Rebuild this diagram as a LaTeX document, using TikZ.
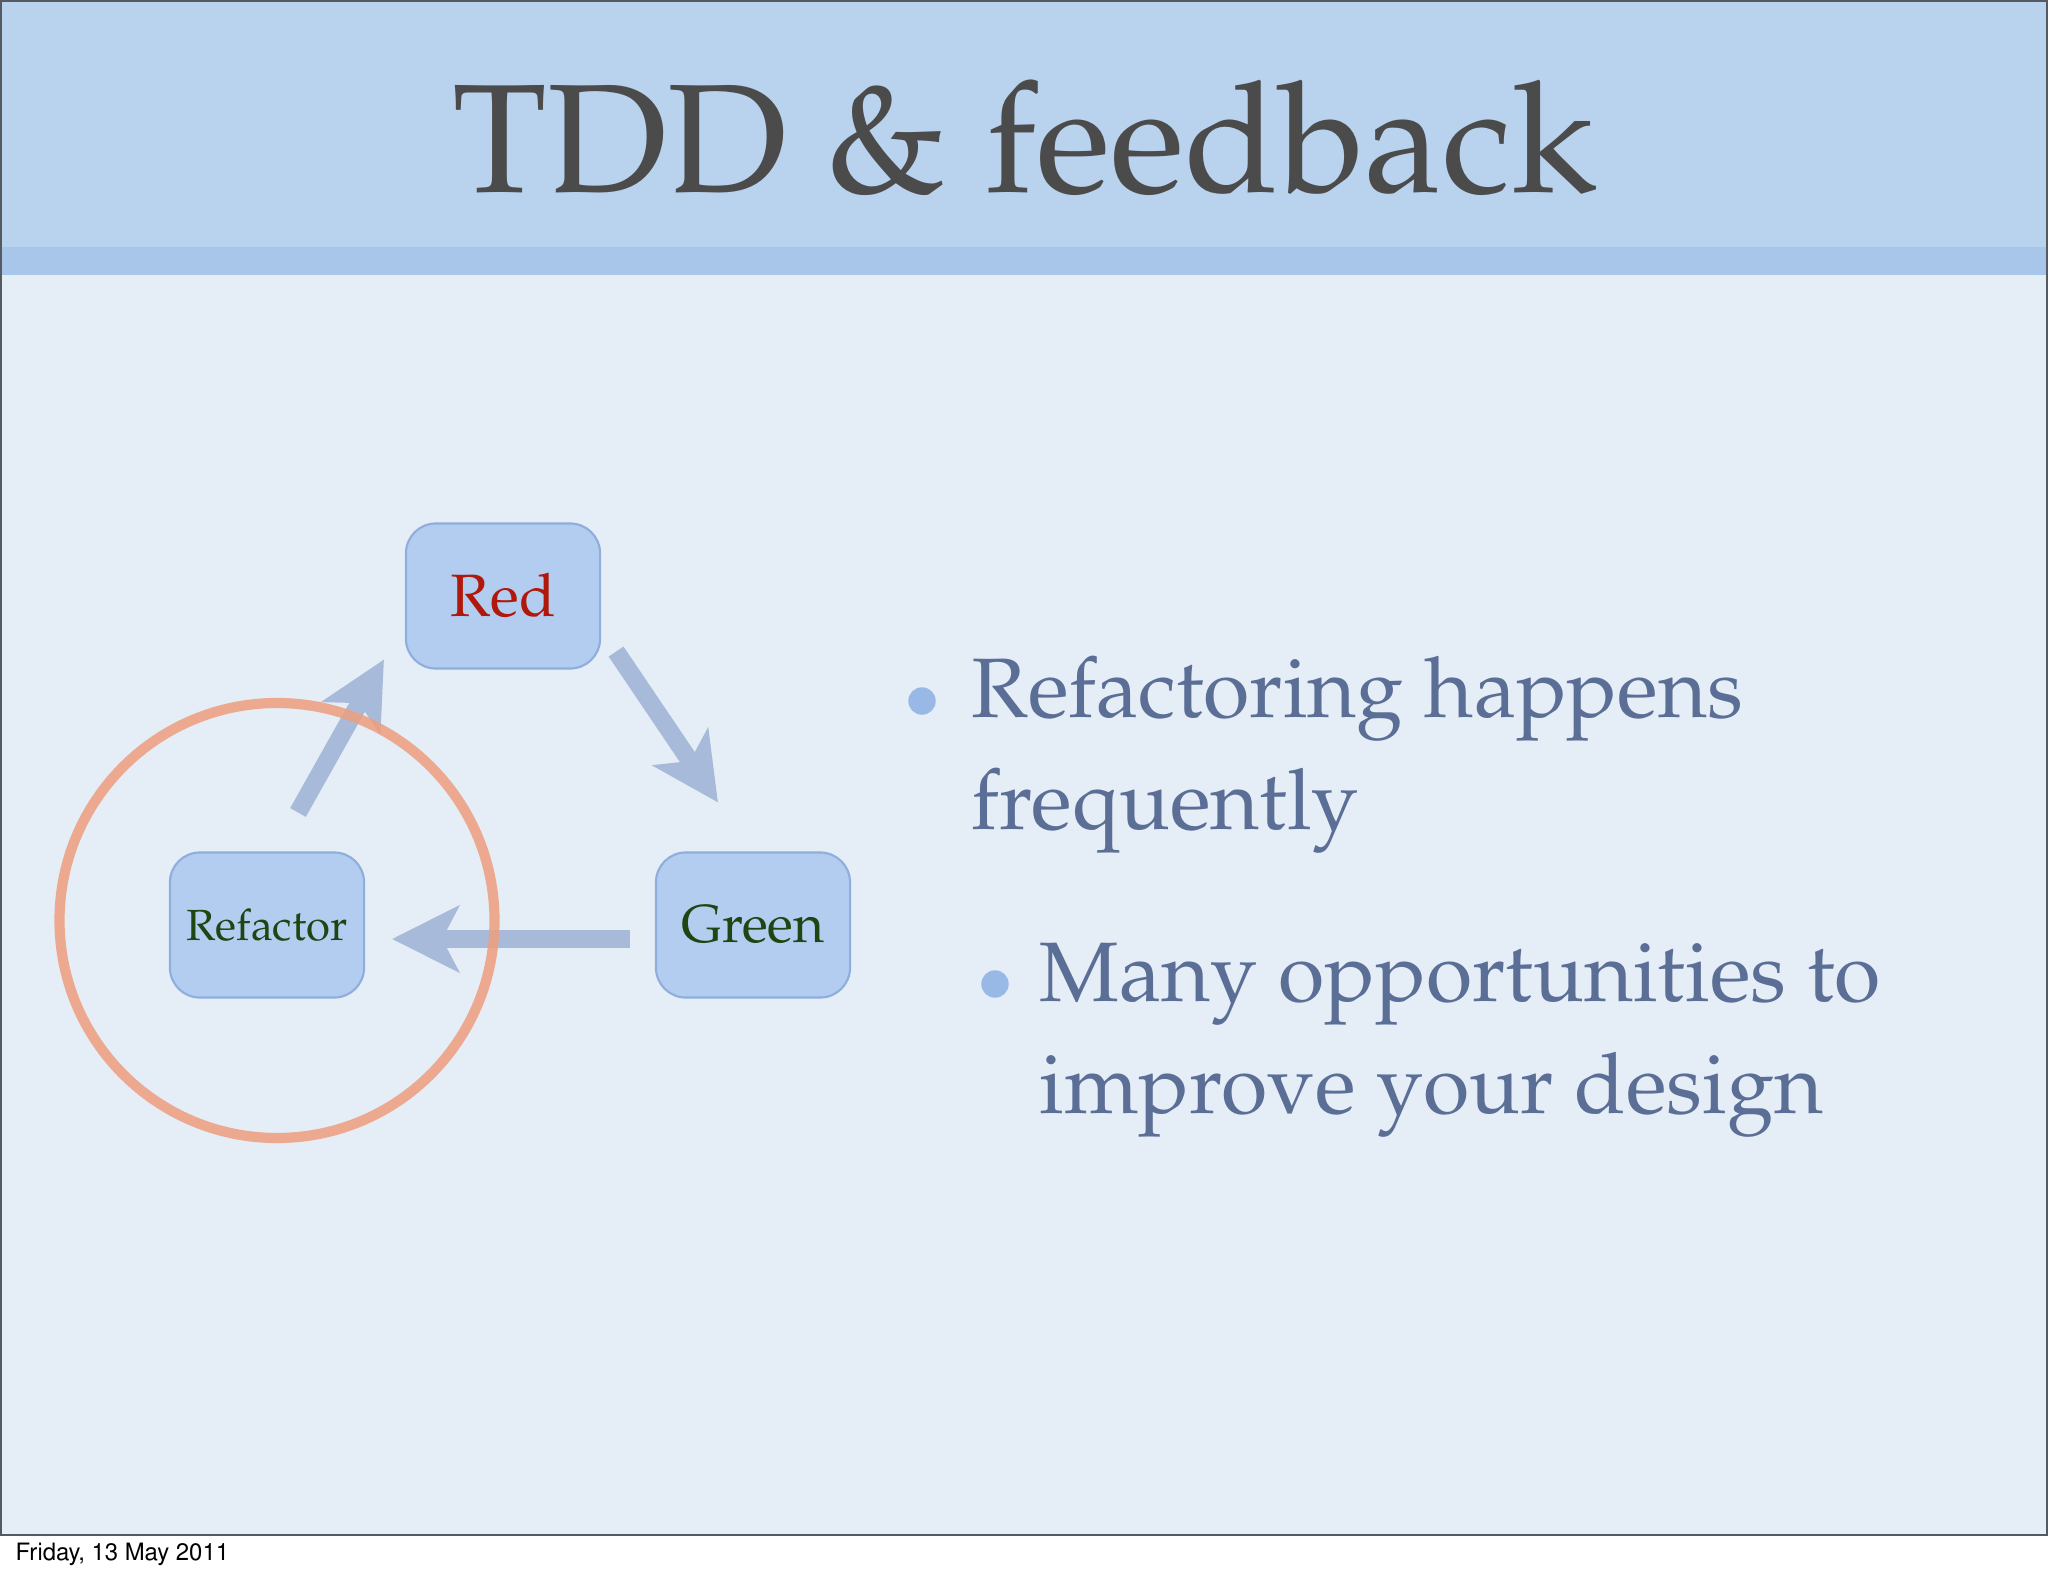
\documentclass[tikz,border=0pt]{standalone}
\usepackage[T1]{fontenc}
\renewcommand{\rmdefault}{ppl}
\renewcommand{\sfdefault}{phv}
\usepackage{xcolor}
\usepackage{tikz}
\usetikzlibrary{calc,arrows.meta}
\definecolor{paper}{HTML}{E5EDF7}
\definecolor{head}{HTML}{B9D2EE}
\definecolor{strip}{HTML}{A8C6EA}
\definecolor{frame}{HTML}{555A60}
\definecolor{titletext}{HTML}{4B4B4B}
\definecolor{boxfill}{HTML}{B3CDF1}
\definecolor{boxline}{HTML}{8FAEDC}
\definecolor{arrow}{HTML}{A8BADA}
\definecolor{ring}{HTML}{EE9E7D}
\definecolor{redtext}{HTML}{B0180C}
\definecolor{greentext}{HTML}{1E4612}
\definecolor{bullet}{HTML}{98B9E5}
\definecolor{body}{HTML}{5A6E96}
\tikzset{
  box/.style={draw=boxline, fill=boxfill, line width=0.6pt, rounded corners=8.5pt,
    minimum width=1.94cm, minimum height=1.45cm, inner sep=0pt, outer sep=0pt},
  arr/.style={draw=arrow, line width=5.1pt,
    -{Stealth[length=19pt, width=18.8pt, inset=4.8pt]}},
  circ/.style={draw=ring, line width=2.9pt, opacity=0.85},
  dot/.style={circle, fill=bullet, inner sep=0pt, minimum size=7.8pt},
  lab/.style={text=body, font=\fontsize{24}{31.6}\selectfont, align=left, inner sep=0pt},
  title/.style={text=titletext, font=\fontsize{44}{50}\selectfont, inner sep=0pt},
  foot/.style={text=black, font=\sffamily\fontsize{6.8}{8}\selectfont, inner sep=0pt},
}
\begin{document}
\begin{tikzpicture}[x=0.01cm,y=-0.01cm]
  \useasboundingbox (0,0) rectangle (2048,1576);
  \fill[white] (0,0) rectangle (2048,1576);
  \fill[paper] (0,0) rectangle (2048,1536);
  \fill[head] (0,0) rectangle (2048,247);
  \fill[strip] (0,247) rectangle (2048,275); % darker edge of the header
  \draw[frame, line width=0.7pt] (1,1) rectangle (2047,1535);

  \node[title, anchor=base] (ttl) at (1025,193) {TDD \& feedback};

  \node[box, text=redtext, font=\fontsize{17}{20}\selectfont] (red) at (503,596) {Red};
  \node[box, text=greentext, font=\fontsize{12.4}{15}\selectfont] (refactor) at (267,925) {Refactor};
  \node[box, text=greentext, font=\fontsize{15.2}{18}\selectfont] (green) at (753,925) {Green};

  \draw[arr] ([shift={(31,-40)}]refactor.north) -- ([shift={(-22,-9)}]red.south west);
  \draw[arr] ([shift={(16,-17)}]red.south east) -- ([shift={(-35,-50)}]green.north);
  \draw[arr] ([shift={(-26,14)}]green.west) -- ([shift={(28,14)}]refactor.east);

  \draw[circ] (277,920.5) circle[radius=217.5]; % around the refactor step

  \node[dot] (b1) at (922,701) {};
  \node[lab, anchor=base west] (t1) at (971,829) {Refactoring happens\\frequently}; % base = last line
  \node[dot] (b2) at (995,984) {};
  \node[lab, anchor=base west] (t2) at (1039,1113) {Many opportunities to\\improve your design};

  \node[foot, anchor=base west] (date) at (15,1560) {Friday, 13 May 2011};
\end{tikzpicture}
\end{document}
